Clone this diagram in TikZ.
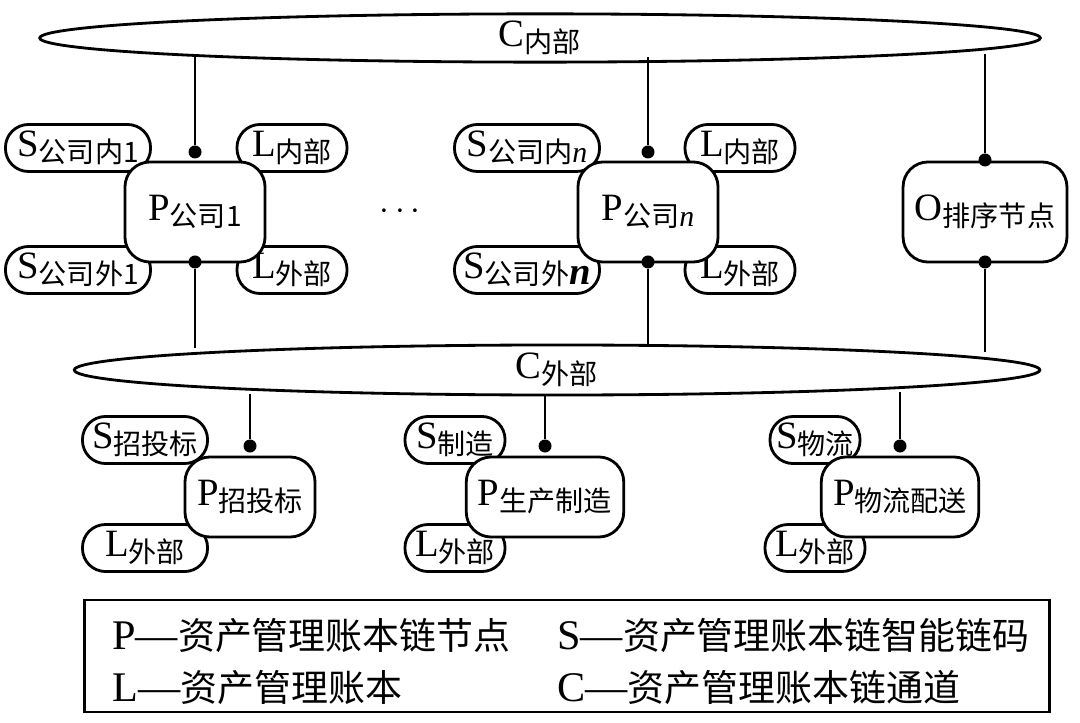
\documentclass[tikz,border=0pt]{standalone}
\usepackage{fontspec}
\setmainfont{Liberation Serif}
\newfontfamily\cjk{Noto Sans CJK SC}
\usetikzlibrary{shapes.geometric}
\newcommand\zh[1]{\raisebox{-0.35ex}{\cjk\fontsize{8}{8}\selectfont #1}}
\newcommand\ital[1]{\raisebox{-0.35ex}{\fontsize{8.5}{8.5}\selectfont\itshape #1}}
\tikzset{%
	pill/.style     = {draw, thick, rounded corners=2.3mm, minimum height=0.47cm, inner sep=1pt, font=\fontsize{11}{11}\selectfont},
	peer/.style     = {draw, thick, fill=white, rounded corners=2.5mm, minimum width=1.4cm, minimum height=1cm, font=\fontsize{11}{11}\selectfont},
	chan/.style     = {draw, thick, ellipse, inner sep=0pt, font=\fontsize{11}{11}\selectfont},
	dot/.style      = {circle, fill, inner sep=0pt, minimum size=0.13cm},
	link/.style     = {thick},
}
\begin{document}
\begin{tikzpicture}[x=0.01cm,y=-0.01cm]
	\useasboundingbox (0,0) rectangle (1080,722);
	% channels
	\node [chan, minimum width=10cm, minimum height=0.4cm] (cin) at (540,38) {C\zh{内部}};
	\node [chan, minimum width=9.65cm, minimum height=0.5cm] (cout) at (557,370) {C\zh{外部}};
	% organisation peers
	\node [pill, minimum width=1.45cm] (s1i) at (78,148) {S\zh{公司内1}};
	\node [pill, minimum width=1.1cm] (l1i) at (292,148) {L\zh{内部}};
	\node [pill, minimum width=1.45cm] (s1o) at (78,270) {S\zh{公司外1}};
	\node [pill, minimum width=1.1cm] (l1o) at (292,270) {L\zh{外部}};
	\node [peer] (p1) at (195,212) {P\zh{公司1}};
	\node at (400,212) {$\cdots$};
	\node [pill, minimum width=1.45cm] (sni) at (527,148) {S\zh{公司内}\ital{n}};
	\node [pill, minimum width=1.1cm] (lni) at (740,148) {L\zh{内部}};
	\node [pill, minimum width=1.45cm] (sno) at (527,270) {S\zh{公司外}\raisebox{-0.35ex}{\itshape\bfseries n}};
	\node [pill, minimum width=1.1cm] (lno) at (740,270) {L\zh{外部}};
	\node [peer] (pn) at (648,212) {P\zh{公司}\ital{n}};
	\node [peer, minimum width=1.5cm] (o) at (985,212) {O\zh{排序节点}};
	% business peers
	\node [pill, minimum width=1.25cm] (sz) at (145,440) {S\zh{招投标}};
	\node [pill, minimum width=1.25cm] (lz) at (145,548) {L\zh{外部}};
	\node [peer, minimum width=1.3cm, minimum height=0.8cm] (pz) at (250,497) {P\zh{招投标}};
	\node [pill, minimum width=1cm] (ss) at (455,440) {S\zh{制造}};
	\node [pill, minimum width=1cm] (ls) at (455,548) {L\zh{外部}};
	\node [peer, minimum width=1.3cm, minimum height=0.8cm] (ps) at (545,497) {P\zh{生产制造}};
	\node [pill, minimum width=0.9cm] (sw) at (815,440) {S\zh{物流}};
	\node [pill, minimum width=1cm] (lw) at (815,548) {L\zh{外部}};
	\node [peer, minimum width=1.3cm, minimum height=0.8cm] (pw) at (900,497) {P\zh{物流配送}};
	% joins
	\node [dot] (p1t) at (195,152) {};
	\node [dot] (pnt) at (648,152) {};
	\node [dot] (ot) at (985,160) {};
	\node [dot] (p1b) at (195,262) {};
	\node [dot] (pnb) at (648,262) {};
	\node [dot] (ob) at (985,262) {};
	\node [dot] (pzt) at (250,446) {};
	\node [dot] (pst) at (545,446) {};
	\node [dot] (pwt) at (900,446) {};
	\draw [link] (p1t) -- (195,57);
	\draw [link] (pnt) -- (648,57);
	\draw [link] (ot) -- (985,54);
	\draw [link] (p1b) -- (195,348);
	\draw [link] (pnb) -- (648,346);
	\draw [link] (ob) -- (985,352);
	\draw [link] (pzt) -- (250,394);
	\draw [link] (pst) -- (545,395);
	\draw [link] (pwt) -- (900,392);
	% legend
	\node [draw, thick, minimum width=9.65cm, minimum height=1.12cm] (key) at (567,656) {};
	\begin{scope}[every node/.style={anchor=west, font=\fontsize{12}{12}\selectfont}]
		\node at (100,636) {P—{\cjk\fontsize{10.5}{10.5}\selectfont 资产管理账本链节点}};
		\node at (545,636) {S—{\cjk\fontsize{10.5}{10.5}\selectfont 资产管理账本链智能链码}};
		\node at (100,688) {L—{\cjk\fontsize{10.5}{10.5}\selectfont 资产管理账本}};
		\node at (545,688) {C—{\cjk\fontsize{10.5}{10.5}\selectfont 资产管理账本链通道}};
	\end{scope}
\end{tikzpicture}
\end{document}
